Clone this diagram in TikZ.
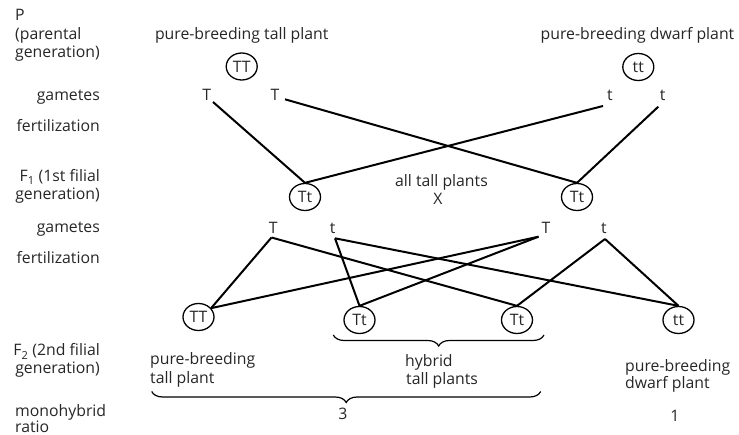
\documentclass[tikz,border=0pt]{standalone}
\usepackage{fontspec}
\setmainfont{Open Sans}
\usetikzlibrary{shapes.geometric,decorations.pathreplacing}
\begin{document}
\begin{tikzpicture}[x=1pt,y=-1pt,
  font=\fontsize{15.8}{18}\selectfont,
  lbl/.style={inner sep=0pt, text=black!85},
  geno/.style={ellipse, draw, line width=1.3pt, minimum width=31pt, minimum height=27pt, inner sep=0pt, text=black!85},
  cross/.style={line width=2pt},
  brc/.style={decorate, decoration={brace, mirror, amplitude=11pt}, line width=1.2pt}]
\useasboundingbox (0,0) rectangle (739,435);

% left column labels
\node[lbl, anchor=base west] (lP) at (15,20.7) {P};
\node[lbl, anchor=base west] (lP2) at (15,39.3) {(parental};
\node[lbl, anchor=base west] (lP3) at (15,57.5) {generation)};
\node[lbl, anchor=base east] (lg1) at (100,100.5) {gametes};
\node[lbl, anchor=base east] (lf1) at (100,131.5) {fertilization};
\node[lbl, anchor=base east] (lF1) at (100,181.5) {F\textsubscript{1} (1st filial};
\node[lbl, anchor=base east] (lF1b) at (100,199.5) {generation)};
\node[lbl, anchor=base east] (lg2) at (100,232.7) {gametes};
\node[lbl, anchor=base east] (lf2) at (100,263.3) {fertilization};
\node[lbl, anchor=base east] (lF2) at (100,356) {F\textsubscript{2} (2nd filial};
\node[lbl, anchor=base east] (lF2b) at (100,374) {generation)};
\node[lbl, anchor=base west] (lm) at (15,417) {monohybrid};
\node[lbl, anchor=base west] (lr) at (15,432.5) {ratio};

% parental generation
\node[lbl, anchor=base] (ptall) at (241.7,40) {pure-breeding tall plant};
\node[lbl, anchor=base] (pdwarf) at (637.5,40) {pure-breeding dwarf plant};
\node[geno] (TTp) at (241.7,66.5) {TT};
\node[geno] (ttp) at (638.3,67) {tt};

% gametes of P
\node[lbl, anchor=base] (gT1) at (206.7,100.7) {T};
\node[lbl, anchor=base] (gT2) at (275,100.7) {T};
\node[lbl, anchor=base] (gt1) at (610,100.7) {t};
\node[lbl, anchor=base] (gt2) at (662.7,100.7) {t};
\coordinate (sT1) at (213,102);
\coordinate (sT2) at (285,99.3);
\coordinate (st1) at (603,106);
\coordinate (st2) at (658.3,106.7);

% F1
\node[geno] (F1a) at (305,197) {Tt};
\node[geno] (F1b) at (577,197) {Tt};
\node[lbl, anchor=base] (alltall) at (441.5,186.7) {all tall plants};
\node[lbl, anchor=base] (X) at (438,205) {X};

\draw[cross] (sT1) -- (F1a.north);
\draw[cross] (st1) -- (F1a.north);
\draw[cross] (sT2) -- (F1b.north);
\draw[cross] (st2) -- (F1b.north);

% gametes of F1
\node[lbl, anchor=base] (hT1) at (273.3,233.3) {T};
\node[lbl, anchor=base] (ht1) at (332.7,233.3) {t};
\node[lbl, anchor=base] (hT2) at (546,233.3) {T};
\node[lbl, anchor=base] (ht2) at (604,233.3) {t};
\coordinate (aT1) at (271.5,237.5);
\coordinate (at1) at (335,238.3);
\coordinate (aT2) at (538.5,236.7);
\coordinate (at2) at (605,239);

% F2
\node[geno] (F2a) at (198.5,317) {TT};
\node[geno] (F2b) at (359.5,320) {Tt};
\node[geno] (F2c) at (517,320) {Tt};
\node[geno] (F2d) at (678.5,320) {tt};

\draw[cross] (aT1) -- (F2a.35);
\draw[cross] (aT1) -- (F2c.north);
\draw[cross] (at1) -- (F2b.north);
\draw[cross] (at1) -- (F2d.north);
\draw[cross] (aT2) -- (F2a.35);
\draw[cross] (aT2) -- (F2b.north);
\draw[cross] (at2) -- (F2c.north);
\draw[cross] (at2) -- (F2d.north);

% braces
\coordinate (b1l) at (333.3,335);
\coordinate (b1r) at (544,335);
\draw[brc] (b1l) -- (b1r);
\coordinate (b2l) at (151.7,391.5);
\coordinate (b2r) at (540.7,391.5);
\draw[brc] (b2l) -- (b2r);

% F2 labels
\node[lbl, anchor=base west] (pt1) at (150,365) {pure-breeding};
\node[lbl, anchor=base west] (pt2) at (150,383.3) {tall plant};
\node[lbl, anchor=base west] (hy1) at (405,366.7) {hybrid};
\node[lbl, anchor=base west] (hy2) at (406,385) {tall plants};
\node[lbl, anchor=base west] (pd1) at (625,371.7) {pure-breeding};
\node[lbl, anchor=base west] (pd2) at (625,388.3) {dwarf plant};
\node[lbl, anchor=base] (n3) at (343,420) {3};
\node[lbl, anchor=base] (n1) at (675,421.7) {1};
\end{tikzpicture}
\end{document}
